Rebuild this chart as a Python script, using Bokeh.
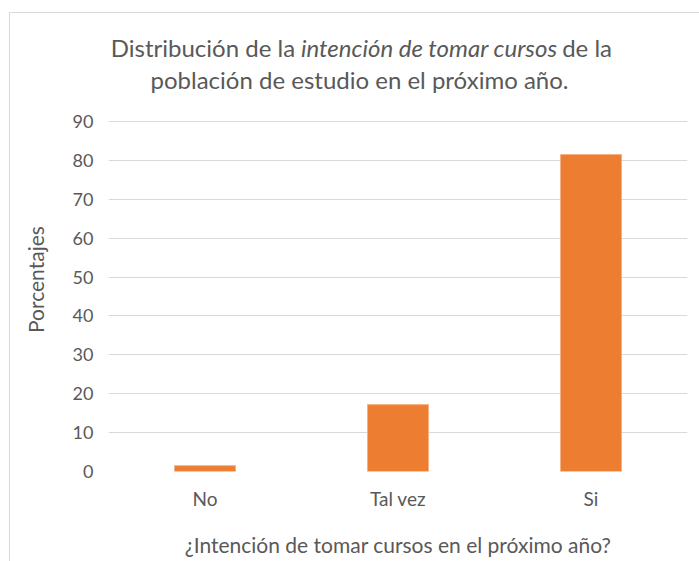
from bokeh.plotting import figure
from bokeh.models import Label, FactorRange, Range1d, FixedTicker
from bokeh.embed import file_html
from bokeh.resources import INLINE

categories = ["No", "Tal vez", "Si"]
values = [1.5, 17.2, 81.5]
y_ticks = [0, 10, 20, 30, 40, 50, 60, 70, 80, 90]

FONT = "Lato"
GRAY = "#595959"

# frame: page x 108..687, page y 13..471 (value 0 at 471, 90 at 121)
PPU = 350.0 / 90.0
y_top = (471 - 13) / PPU

p = figure(x_range=FactorRange(*categories), y_range=Range1d(0, y_top),
           frame_width=579, frame_height=458, output_backend="svg", toolbar_location=None,
           min_border_left=98, min_border_right=12, min_border_top=0, min_border_bottom=90)
p.styles = {"margin-left": "9px", "margin-top": "12px",
            "border-left": "1px solid #d9d9d9", "border-top": "1px solid #d9d9d9"}
p.outline_line_color = None
p.vbar(x=categories, top=values, width=0.316, color="#ed7d31", line_color="#f4b183", line_width=1)

p.xgrid.grid_line_color = None
p.ygrid.grid_line_color = "#d9d9d9"
p.ygrid.grid_line_width = 1
for ax in (p.xaxis, p.yaxis):
    ax.axis_line_color = None
    ax.major_tick_line_color = None
    ax.minor_tick_line_color = None
    ax.major_tick_out = 0
    ax.major_tick_in = 0
    ax.minor_tick_out = 0
    ax.major_label_text_font = FONT
    ax.major_label_text_color = GRAY
    ax.axis_label_text_font = FONT
    ax.axis_label_text_font_size = "21px"
    ax.axis_label_text_font_style = "normal"
    ax.axis_label_text_color = GRAY
p.yaxis.major_label_text_font_size = "18px"
p.xaxis.major_label_text_font_size = "19px"

p.yaxis.ticker = FixedTicker(ticks=y_ticks)
p.yaxis.major_label_standoff = 15
# trailing em spaces keep the label centred on the 0-90 part of the axis
p.yaxis.axis_label = "Porcentajes" + "\u2003\u2003\u2003" + "\u00a0" * 5
p.yaxis.axis_label_standoff = 22

p.xaxis.major_label_standoff = 15
p.xaxis.axis_label = "¿Intención de tomar cursos en el próximo año?"
p.xaxis.axis_label_standoff = 19

# Title (mixed italic) as labels inside the frame; screen units from frame bottom-left
FL, FB = 108, 471
size = 24
k = size / 23.0
w1 = 177 * k      # "Distribución de la"
wi = 245 * k      # "intención de tomar cursos"
w3 = 48 * k       # "de la"
gap = 5.5
total = w1 + gap + wi + gap + w3
x1 = 361 - total / 2
xi = x1 + w1 + gap
x3 = xi + wi + gap
common = dict(text_font=FONT, text_font_size=f"{size}px", text_color=GRAY,
              text_baseline="alphabetic", text_align="left", x_units="screen", y_units="screen")
p.add_layout(Label(x=x1 - FL, y=FB - 47, text="Distribución de la", **common))
p.add_layout(Label(x=xi - FL, y=FB - 47, text="intención de tomar cursos",
                   text_font_style="italic", **common))
p.add_layout(Label(x=x3 - FL, y=FB - 47, text="de la", **common))
common2 = dict(common, text_align="center")
p.add_layout(Label(x=359 - FL, y=FB - 79, text="población de estudio en el próximo año.", **common2))

open("out.html", "w").write(file_html(p, INLINE))
